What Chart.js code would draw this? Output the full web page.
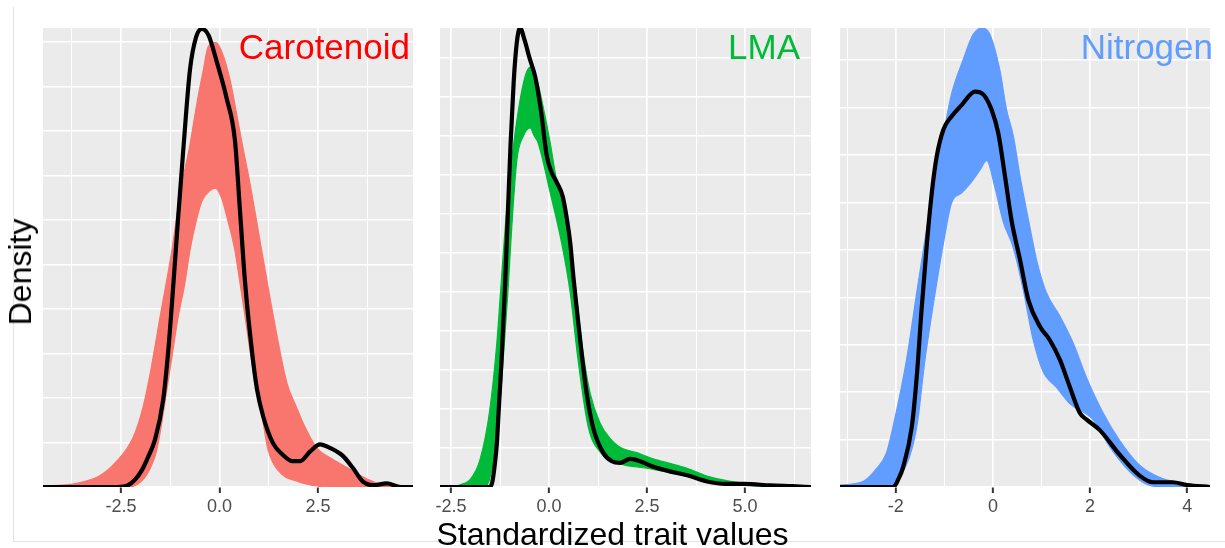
<!DOCTYPE html>
<html>
<head>
<meta charset="utf-8">
<script src="https://cdn.jsdelivr.net/npm/chart.js@4.4.1/dist/chart.umd.min.js"></script>
<style>
  body { margin: 0; background: #fff; font-family: "Liberation Sans", Arial, sans-serif; }
  #page { position: relative; width: 1225px; height: 548px; overflow: hidden; }
  canvas.panel { position: absolute; top: 18px; }
  .lab { position: absolute; top: 29px; font-size: 35px; line-height: 1; white-space: nowrap; }
  #xtitle { position: absolute; left: 0; width: 1225px; top: 518px; text-align: center; font-size: 32px; line-height: 1; color: #000; }
  #ytitle { position: absolute; left: 19.5px; top: 272px; font-size: 32px; line-height: 1; color: #000;
            transform: translate(-50%, -50%) rotate(-90deg); white-space: nowrap; }
  .frame { position: absolute; background: #E3E3E3; }
</style>
</head>
<body>
<div id="page">
  <div class="frame" style="left:13px; top:7px; width:1px; height:534px;"></div>
  <div class="frame" style="left:13px; top:541px; width:1212px; height:1px;"></div>
  <canvas id="p1" class="panel"></canvas>
  <canvas id="p2" class="panel"></canvas>
  <canvas id="p3" class="panel"></canvas>
  <div class="lab" style="right:815px; color:#FF0000;">Carotenoid</div>
  <div class="lab" style="right:425px; color:#00BA38;">LMA</div>
  <div class="lab" style="right:12px; color:#619CFF;">Nitrogen</div>
  <div id="ytitle">Density</div>
  <div id="xtitle">Standardized trait values</div>
</div>
<script>
// ---- data: [x, density] ----
// Carotenoid
var caroObs = [[-4.48,0],[-2.6,0],[-2.32,0.002],[-2.15,0.008],[-1.97,0.019],[-1.8,0.035],[-1.64,0.053],[-1.43,0.098],
  [-1.30,0.154],[-1.17,0.229],[-1.05,0.303],[-0.92,0.379],[-0.75,0.469],[-0.6,0.505],[-0.45,0.515],[-0.28,0.508],
  [-0.07,0.478],[0.18,0.437],[0.39,0.39],[0.52,0.31],[0.65,0.229],[0.82,0.154],[0.95,0.11],[1.11,0.079],[1.36,0.049],
  [1.61,0.036],[1.85,0.029],[2.04,0.029],[2.30,0.040],[2.55,0.048],[2.80,0.044],[3.13,0.035],[3.39,0.021],[3.64,0.006],
  [3.9,0.002],[4.24,0.004],[4.6,0],[4.91,0]];
var caroHi = [[-4.48,0.001],[-4.0,0.002],[-3.54,0.005],[-3.03,0.013],[-2.61,0.029],[-2.19,0.056],[-1.94,0.09],[-1.75,0.13],
  [-1.51,0.191],[-1.21,0.266],[-1.0,0.33],[-0.75,0.385],[-0.58,0.43],[-0.41,0.469],[-0.29,0.495],[-0.1,0.50],[0.07,0.488],
  [0.27,0.457],[0.44,0.418],[0.6,0.38],[0.77,0.342],[1.07,0.266],[1.37,0.191],[1.71,0.117],[1.95,0.09],[2.12,0.072],
  [2.47,0.044],[2.88,0.031],[3.31,0.02],[3.74,0.009],[4.15,0.003],[4.91,0.001]];
var caroLo = [[-4.48,0],[-2.3,0],[-1.95,0.008],[-1.75,0.022],[-1.59,0.042],[-1.31,0.117],[-1.05,0.191],[-0.88,0.229],
  [-0.75,0.266],[-0.57,0.303],[-0.44,0.322],[-0.25,0.333],[-0.11,0.336],[0.05,0.325],[0.19,0.303],[0.39,0.266],
  [0.52,0.229],[0.65,0.191],[0.77,0.154],[0.90,0.117],[1.08,0.079],[1.23,0.042],[1.5,0.018],[2.0,0.006],[2.5,0.001],
  [2.8,0],[4.91,0]];
// LMA
var lmaObs = [[-2.78,0],[-1.5,0],[-1.44,0.008],[-1.38,0.03],[-1.33,0.056],[-1.27,0.11],[-1.21,0.163],[-1.12,0.26],
  [-1.05,0.35],[-0.98,0.44],[-0.9,0.52],[-0.82,0.57],[-0.74,0.588],[-0.62,0.572],[-0.5,0.55],[-0.35,0.525],[-0.2,0.48],
  [-0.06,0.425],[0.05,0.405],[0.2,0.39],[0.35,0.372],[0.45,0.345],[0.54,0.313],[0.62,0.27],[0.71,0.227],[0.83,0.172],
  [0.96,0.12],[1.12,0.077],[1.38,0.044],[1.6,0.033],[1.81,0.031],[2.07,0.036],[2.32,0.033],[2.66,0.026],[3.17,0.019],
  [3.52,0.015],[4.03,0.007],[4.5,0.004],[4.98,0.004],[5.64,0.002],[6.2,0.001],[6.68,0]];
var lmaHi = [[-2.78,0],[-2.4,0.001],[-2.2,0.004],[-2.02,0.009],[-1.76,0.035],[-1.51,0.099],[-1.33,0.185],[-1.21,0.269],
  [-1.08,0.355],[-0.95,0.419],[-0.78,0.483],[-0.61,0.526],[-0.48,0.538],[-0.31,0.522],[-0.15,0.487],[0.03,0.441],
  [0.2,0.39],[0.36,0.358],[0.54,0.31],[0.71,0.24],[0.87,0.172],[1.05,0.12],[1.3,0.082],[1.56,0.062],[1.81,0.051],
  [2.24,0.044],[2.66,0.036],[3.1,0.03],[3.52,0.024],[4.1,0.013],[4.8,0.006],[5.64,0.002],[6.68,0]];
var lmaLo = [[-2.78,0],[-1.65,0],[-1.5,0.013],[-1.3,0.077],[-1.17,0.163],[-1.05,0.249],[-0.95,0.333],[-0.82,0.419],
  [-0.65,0.45],[-0.48,0.46],[-0.38,0.45],[-0.28,0.441],[0.03,0.377],[0.32,0.313],[0.54,0.249],[0.74,0.163],[1.0,0.077],
  [1.3,0.045],[1.8,0.03],[2.5,0.024],[3.5,0.014],[4.5,0.005],[5.5,0.001],[6.68,0]];
// Nitrogen
var nitroObs = [[-3.15,0],[-2.05,0],[-1.95,0.008],[-1.85,0.021],[-1.67,0.064],[-1.57,0.116],[-1.47,0.187],[-1.36,0.257],
  [-1.26,0.31],[-1.16,0.348],[-1.02,0.377],[-0.85,0.391],[-0.64,0.403],[-0.37,0.417],[-0.2,0.414],[-0.03,0.398],
  [0.11,0.373],[0.25,0.327],[0.38,0.282],[0.56,0.239],[0.73,0.197],[0.97,0.169],[1.17,0.155],[1.38,0.134],[1.58,0.106],
  [1.79,0.078],[1.93,0.071],[2.2,0.06],[2.61,0.034],[3.02,0.012],[3.3,0.005],[3.7,0.005],[4.0,0.002],[4.47,0]];
var nitroHi = [[-3.15,0.002],[-2.67,0.006],[-2.39,0.02],[-2.2,0.035],[-2.06,0.063],[-1.78,0.134],[-1.57,0.205],[-1.36,0.274],
  [-1.19,0.327],[-0.99,0.38],[-0.85,0.415],[-0.61,0.451],[-0.41,0.477],[-0.23,0.484],[-0.06,0.477],[0.14,0.44],
  [0.28,0.398],[0.42,0.37],[0.56,0.327],[0.73,0.282],[0.9,0.239],[1.1,0.205],[1.38,0.18],[1.65,0.152],[1.93,0.115],
  [2.27,0.078],[2.61,0.049],[3.02,0.023],[3.44,0.01],[4.0,0.003],[4.47,0.001]];
var nitroLo = [[-3.15,0],[-2.1,0],[-1.91,0.01],[-1.57,0.063],[-1.4,0.134],[-1.19,0.205],[-1.02,0.257],[-0.85,0.3],
  [-0.65,0.31],[-0.47,0.32],[-0.27,0.334],[-0.13,0.344],[0.04,0.316],[0.21,0.28],[0.42,0.252],[0.62,0.209],[0.82,0.157],
  [1.03,0.122],[1.31,0.105],[1.58,0.088],[2.06,0.071],[2.41,0.042],[2.82,0.016],[3.16,0.003],[3.5,0],[4.47,0]];

// axes
var caroTicks = [-2.5, 0, 2.5];      var caroTickLabels = ['-2.5', '0.0', '2.5'];
var lmaTicks = [-2.5, 0, 2.5, 5];    var lmaTickLabels = ['-2.5', '0.0', '2.5', '5.0'];
var nitroTicks = [-2, 0, 2, 4];      var nitroTickLabels = ['-2', '0', '2', '4'];
var caroMinor = [-3.75, -1.25, 1.25, 3.75];
var lmaMinor = [-1.25, 1.25, 3.75, 6.25];
var nitroMinor = [-3, -1, 1, 3];
var caroX = [-4.48, 4.91], lmaX = [-2.78, 6.68], nitroX = [-3.15, 4.47];
var caroYMax = 0.516, lmaYMax = 0.588, nitroYMax = 0.484;

// ---- drawing ----
var FONT = '"Liberation Sans", Arial, sans-serif';

var panelBg = {
  id: 'panelBg',
  beforeDraw: function(chart) {
    var a = chart.chartArea, c = chart.ctx;
    c.save();
    c.fillStyle = '#EBEBEB';
    c.fillRect(a.left, a.top, a.right - a.left, a.bottom - a.top);
    c.restore();
  }
};

function toXY(pts) {
  return pts.map(function(p) { return {x: p[0], y: p[1]}; });
}

function makePanel(id, left, right, col, obs, hi, lo, xr, ymax, ticks, labels, minor) {
  var cv = document.getElementById(id);
  cv.width = right - left + 40;
  cv.height = 509;
  cv.style.left = (left - 20) + 'px';
  var isMajor = function(ctx) { return ctx.tick && ticks.indexOf(ctx.tick.value) >= 0; };

  new Chart(cv, {
    type: 'line',
    data: {
      datasets: [
        {data: toXY(obs), borderColor: '#000', borderWidth: 4.2, fill: false},
        {data: toXY(hi), borderColor: col, borderWidth: 1.2, backgroundColor: col, fill: '+1'},
        {data: toXY(lo), borderColor: col, borderWidth: 1.2, fill: false}
      ]
    },
    options: {
      responsive: false,
      animation: false,
      layout: {padding: {left: 20, right: 20, top: 10, bottom: 0}},
      elements: {point: {radius: 0}, line: {cubicInterpolationMode: 'monotone'}},
      plugins: {legend: {display: false}, tooltip: {enabled: false}},
      scales: {
        x: {
          type: 'linear', min: xr[0], max: xr[1],
          afterBuildTicks: function(s) {
            s.ticks = ticks.concat(minor).sort(function(a, b) { return a - b; })
              .map(function(v) { return {value: v}; });
          },
          afterFit: function(s) { s.height = 40; s.paddingLeft = 0; s.paddingRight = 0; },
          ticks: {
            autoSkip: false, maxRotation: 0, padding: 3, color: '#4D4D4D',
            font: {family: FONT, size: 18},
            callback: function(v) { var i = ticks.indexOf(v); return i < 0 ? '' : labels[i]; }
          },
          grid: {
            color: '#FFFFFF',
            lineWidth: function(ctx) { return isMajor(ctx) ? 1.7 : 1.0; },
            tickColor: function(ctx) { return isMajor(ctx) ? '#333333' : 'rgba(0,0,0,0)'; },
            tickLength: 6, tickWidth: 2
          },
          border: {display: false}
        },
        y: {
          type: 'linear', min: 0, max: ymax,
          ticks: {display: false, stepSize: 0.05, includeBounds: false},
          grid: {color: '#FFFFFF', lineWidth: 1.5, drawTicks: false},
          border: {display: false},
          afterFit: function(s) { s.width = 0; }
        }
      }
    },
    plugins: [panelBg]
  });
}

makePanel('p1', 43, 413, '#F8766D', caroObs, caroHi, caroLo, caroX, caroYMax, caroTicks, caroTickLabels, caroMinor);
makePanel('p2', 440, 811, '#00BA38', lmaObs, lmaHi, lmaLo, lmaX, lmaYMax, lmaTicks, lmaTickLabels, lmaMinor);
makePanel('p3', 840, 1210, '#619CFF', nitroObs, nitroHi, nitroLo, nitroX, nitroYMax, nitroTicks, nitroTickLabels, nitroMinor);
</script>
</body>
</html>
